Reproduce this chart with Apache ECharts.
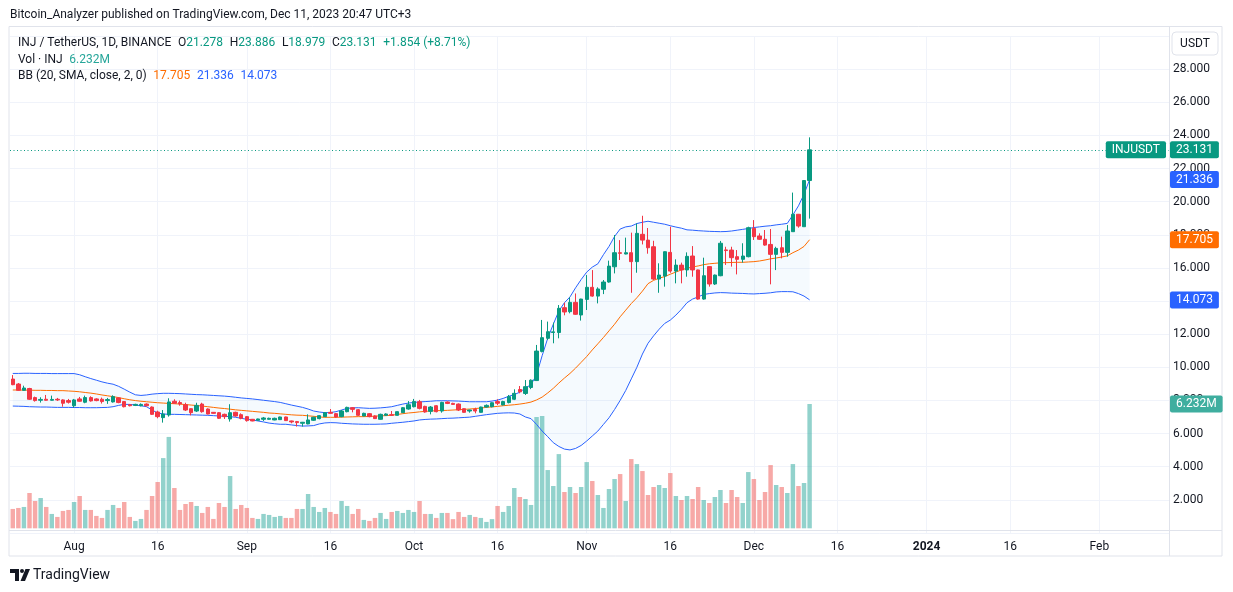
<!DOCTYPE html>
<html><head><meta charset="utf-8">
<script src="https://cdn.jsdelivr.net/npm/echarts@6/dist/echarts.min.js"></script>
<style>html,body{margin:0;padding:0;background:#fff;}#c{width:1233px;height:592px;}</style>
</head><body><div id="c"></div>
<script>
// ---- data ----
const startDate = '2023-07-21';
const dayCount = 208; // axis runs to mid-Feb 2024
const tickDates = ['2023-08-01','2023-08-16','2023-09-01','2023-09-16','2023-10-01','2023-10-16','2023-11-01','2023-11-16','2023-12-01','2023-12-16','2024-01-01','2024-01-16','2024-02-01'];
const tickLabels = ['Aug','16','Sep','16','Oct','16','Nov','16','Dec','16','2024','16','Feb'];
const priceTicks = [2,4,6,8,10,12,14,16,18,20,22,24,26,28];

const open = [9.29,8.99,8.61,8.72,8.17,8.01,8.07,8.01,8.07,8.03,7.99,7.68,8.09,7.89,8.17,8.09,8.07,7.99,7.91,8.15,
7.93,7.74,7.70,7.68,7.78,7.60,7.30,6.96,7.12,7.95,7.87,7.74,7.50,7.36,7.78,7.48,7.28,7.26,7.16,6.88,
7.28,7.14,7.02,6.86,6.80,6.86,6.86,6.82,6.84,7.00,6.76,6.72,6.62,6.58,6.80,6.90,7.02,7.28,7.20,7.02,
7.32,7.56,7.44,7.06,7.20,7.06,6.86,7.10,7.14,7.10,7.26,7.48,7.62,7.92,7.64,7.34,7.68,7.36,7.90,7.82,
7.78,7.50,7.36,7.46,7.28,7.60,7.62,7.93,7.73,7.87,8.07,8.66,8.42,8.78,9.20,10.96,11.75,12.10,12.10,13.60,
13.36,13.92,13.16,14.10,14.83,14.30,14.71,15.15,16.07,16.92,16.84,16.92,16.38,18.03,17.68,17.28,15.33,15.51,16.94,15.81,
16.17,15.88,16.72,15.88,14.12,16.08,15.03,15.53,17.09,17.08,16.68,16.52,16.68,18.39,17.93,17.73,17.42,16.82,17.22,16.94,
18.19,19.24,18.49,21.278];
const close = [8.95,8.61,8.75,8.07,7.99,8.06,8.01,8.06,8.03,7.83,7.89,8.03,7.95,8.17,7.97,7.99,7.93,8.05,8.23,7.87,
7.62,7.68,7.76,7.76,7.68,7.16,7.02,7.18,7.91,7.83,7.79,7.42,7.26,7.70,7.32,7.18,7.22,6.92,7.02,7.26,
7.06,6.92,6.78,6.76,6.88,6.94,6.92,6.92,7.00,6.78,6.70,6.66,6.68,6.82,6.98,7.08,7.26,7.22,7.00,7.36,
7.58,7.46,7.10,7.22,7.02,6.90,7.16,7.18,7.10,7.32,7.56,7.74,7.94,7.52,7.30,7.60,7.32,7.88,7.82,7.76,
7.42,7.28,7.42,7.36,7.60,7.70,7.86,7.83,7.93,8.23,8.43,8.52,8.83,9.22,10.98,11.79,12.15,12.14,13.56,13.34,
13.92,13.20,14.12,14.83,14.30,14.73,15.15,16.11,16.92,16.88,16.92,16.38,18.09,17.68,17.22,15.33,15.57,16.98,15.81,16.17,
15.88,16.70,15.88,14.12,15.53,15.03,15.57,17.49,17.05,16.62,16.52,16.72,18.43,17.89,17.73,17.38,16.82,17.18,16.94,18.23,
19.24,18.53,21.278,23.131];
const low = [8.92,8.58,8.58,8.03,7.93,7.87,7.99,7.99,7.97,7.62,7.81,7.56,7.93,7.83,7.93,7.95,7.81,7.79,7.87,7.83,
7.58,7.64,7.66,7.64,7.64,7.12,6.92,6.66,7.02,7.80,7.68,7.36,7.10,7.30,7.26,7.16,7.20,6.88,6.88,6.72,
7.02,6.86,6.72,6.74,6.78,6.76,6.84,6.80,6.82,6.76,6.62,6.42,6.42,6.56,6.76,6.86,7.00,7.20,6.96,6.98,
7.28,7.28,7.06,7.04,6.98,6.88,6.84,7.06,7.06,7.08,7.24,7.44,7.58,7.46,7.26,7.16,7.28,7.26,7.78,7.74,
7.36,7.26,7.26,7.22,7.26,7.56,7.58,7.72,7.70,7.82,8.02,8.43,8.33,8.68,9.17,10.90,11.65,11.45,11.75,13.14,
13.26,13.16,12.82,13.46,14.26,13.86,14.42,15.11,15.67,16.48,16.82,14.50,15.71,17.42,16.86,15.27,14.50,14.87,15.71,15.07,
15.07,15.47,15.47,14.08,14.08,14.87,14.97,15.50,16.18,16.08,15.61,16.32,16.64,17.69,17.69,17.34,15.01,15.87,16.58,16.68,
18.19,18.43,18.49,18.979];
const high = [9.53,9.05,8.89,8.76,8.23,8.19,8.33,8.29,8.15,8.07,8.09,8.09,8.21,8.29,8.25,8.13,8.17,8.15,8.31,8.19,
7.95,7.78,7.80,7.82,7.82,7.64,7.38,7.42,8.13,8.07,7.99,7.86,7.52,7.86,7.86,7.52,7.30,7.30,7.20,7.77,
7.32,7.22,7.06,6.88,6.90,7.00,6.96,6.96,7.02,7.02,6.78,6.76,6.70,7.16,7.02,7.12,7.30,7.48,7.24,7.42,
7.62,7.60,7.48,7.26,7.24,7.10,7.20,7.22,7.36,7.34,7.60,7.96,8.09,8.03,7.68,7.66,7.72,7.92,7.94,7.86,
7.82,7.52,7.44,7.56,7.62,7.76,7.88,8.07,7.98,8.33,8.67,8.87,9.23,9.27,11.35,12.86,12.76,12.70,13.76,13.90,
14.22,14.46,14.14,15.57,15.87,14.83,15.27,16.44,17.99,17.68,17.83,18.13,18.69,19.15,18.41,17.64,16.28,17.00,18.49,16.52,
16.32,16.94,17.32,15.90,16.62,16.10,15.60,17.63,17.28,17.28,17.08,17.49,18.49,18.89,18.09,18.29,18.35,17.28,17.89,18.59,
20.55,19.26,21.31,23.886];
// volume in millions of INJ
const volume = [0.97,1.02,1.07,1.77,1.37,1.52,1.07,0.72,0.57,0.87,0.92,1.32,1.62,0.92,0.92,0.62,0.52,0.92,1.17,1.02,
1.32,0.57,0.37,0.47,0.92,1.62,2.32,3.52,4.58,2.02,0.92,1.22,1.32,1.12,0.77,1.07,0.47,1.27,1.07,2.62,
0.97,1.17,1.02,0.52,0.47,0.72,0.67,0.57,0.62,0.52,0.52,0.97,0.97,1.72,1.07,0.82,1.02,0.82,0.72,1.37,
1.12,0.72,0.97,0.42,0.37,0.52,0.77,0.47,0.82,0.87,0.77,0.92,0.82,1.37,0.72,0.72,0.52,0.77,0.77,0.46,
0.82,0.57,0.67,0.57,0.52,0.32,0.46,1.12,0.82,1.12,2.02,1.57,1.47,1.17,5.58,5.63,2.92,2.12,3.72,1.82,
2.07,1.77,2.07,3.32,2.37,1.67,1.02,1.97,2.47,2.72,1.37,3.47,3.22,2.87,1.67,2.07,2.17,2.02,2.77,1.62,
1.42,1.62,1.47,2.07,1.42,1.27,1.57,1.92,1.27,1.92,1.57,1.27,2.82,2.47,1.42,1.82,3.17,2.17,2.07,1.77,
3.22,2.12,2.27,6.232];
const bbUpper = [9.63,9.63,9.64,9.64,9.63,9.63,9.63,9.62,9.62,9.62,9.62,9.62,9.55,9.43,9.32,9.22,9.12,9.04,8.98,8.85,
8.68,8.50,8.34,8.30,8.33,8.38,8.41,8.43,8.43,8.42,8.41,8.39,8.37,8.35,8.34,8.32,8.30,8.28,8.26,8.23,
8.19,8.15,8.12,8.09,8.05,8.01,7.97,7.93,7.88,7.80,7.72,7.65,7.58,7.48,7.36,7.30,7.26,7.27,7.32,7.42,
7.52,7.55,7.56,7.54,7.52,7.53,7.55,7.58,7.62,7.70,7.78,7.84,7.88,7.91,7.93,7.95,7.98,7.98,7.98,7.97,
7.96,7.94,7.92,7.92,7.92,7.92,7.96,8.02,8.12,8.25,8.35,8.50,8.75,8.95,9.55,10.70,11.75,12.60,13.40,13.90,
14.25,14.80,15.30,15.75,16.05,16.25,16.80,17.30,17.90,18.35,18.48,18.53,18.68,18.76,18.82,18.76,18.70,18.64,18.55,18.47,
18.40,18.30,18.28,18.25,18.23,18.21,18.20,18.19,18.20,18.23,18.28,18.33,18.38,18.44,18.48,18.52,18.55,18.60,18.64,18.69,
19.20,19.75,20.45,21.336];
const bbBasis = [8.63,8.63,8.62,8.62,8.61,8.61,8.60,8.60,8.59,8.59,8.57,8.55,8.52,8.48,8.44,8.39,8.33,8.28,8.23,8.17,
8.10,8.04,7.99,7.95,7.92,7.89,7.86,7.84,7.82,7.80,7.78,7.75,7.72,7.69,7.66,7.62,7.58,7.54,7.51,7.47,
7.43,7.40,7.37,7.34,7.31,7.28,7.24,7.22,7.19,7.16,7.13,7.11,7.10,7.07,7.04,7.00,6.98,6.98,6.98,6.99,
7.00,7.01,7.02,7.02,7.03,7.05,7.07,7.08,7.11,7.15,7.20,7.24,7.27,7.31,7.34,7.36,7.38,7.39,7.40,7.42,
7.44,7.46,7.48,7.51,7.54,7.58,7.61,7.64,7.68,7.71,7.74,7.78,7.83,7.90,8.03,8.20,8.45,8.73,9.05,9.35,
9.63,9.95,10.30,10.65,11.05,11.42,11.80,12.20,12.60,13.05,13.45,13.85,14.20,14.60,15.05,15.25,15.38,15.48,15.62,15.75,
15.88,15.98,16.06,16.12,16.20,16.25,16.28,16.31,16.32,16.33,16.34,16.34,16.36,16.38,16.42,16.48,16.55,16.60,16.66,16.73,
16.92,17.08,17.30,17.705];
const bbLower = [7.66,7.65,7.64,7.62,7.61,7.60,7.60,7.59,7.58,7.58,7.58,7.57,7.57,7.56,7.56,7.56,7.57,7.58,7.62,7.70,
7.76,7.76,7.72,7.68,7.62,7.42,7.24,7.18,7.16,7.16,7.15,7.14,7.13,7.12,7.11,7.10,7.08,7.06,7.04,7.02,
6.98,6.92,6.86,6.82,6.76,6.70,6.63,6.59,6.56,6.56,6.52,6.48,6.45,6.46,6.48,6.58,6.64,6.66,6.65,6.62,
6.60,6.58,6.57,6.56,6.56,6.56,6.57,6.58,6.62,6.65,6.68,6.72,6.76,6.82,6.85,6.87,6.88,6.90,6.92,6.93,
6.95,6.97,6.99,7.04,7.09,7.14,7.18,7.22,7.24,7.25,7.24,7.18,7.00,6.90,6.55,6.15,5.81,5.45,5.22,5.06,
5.01,5.10,5.28,5.55,5.85,6.15,6.55,6.95,7.45,8.00,8.60,9.30,10.00,10.80,11.45,11.90,12.30,12.65,12.85,13.15,
13.50,13.90,14.12,14.25,14.40,14.45,14.49,14.51,14.50,14.48,14.47,14.46,14.44,14.43,14.45,14.47,14.50,14.55,14.57,14.57,
14.56,14.45,14.30,14.073];

// ---- build chart ----
const UP = '#089981', DOWN = '#f23645';
const VUP = 'rgba(38,166,154,0.5)', VDOWN = 'rgba(239,83,80,0.5)';
const dates = [];
{
  const d0 = new Date(startDate + 'T00:00:00Z');
  for (let i = 0; i < dayCount; i++) {
    const d = new Date(d0.getTime() + i * 86400000);
    dates.push(d.toISOString().slice(0, 10));
  }
}
const tickMap = {};
tickDates.forEach((d, i) => tickMap[d] = tickLabels[i]);
const isTick = (idx, val) => Object.prototype.hasOwnProperty.call(tickMap, val);

const candles = open.map((o, i) => [o, close[i], low[i], high[i]]);
const volData = volume.map((v, i) => ({ value: v, itemStyle: { color: close[i] >= open[i] ? VUP : VDOWN } }));
const bandWidth = bbUpper.map((u, i) => +(u - bbLower[i]).toFixed(4));
const last = close[close.length - 1];
const lastVol = volume[volume.length - 1];

const FONT = 'Roboto, "Noto Sans", sans-serif';
const HIDDEN = { color: 'rgba(0,0,0,0)', width: 1 };
const badge = (txt, bg, pos) => ({
  show: true, position: pos || 'end', formatter: txt, backgroundColor: bg, color: '#fff',
  padding: [3, 6, 2, 6], borderRadius: 2, fontSize: 12, fontFamily: FONT, distance: 1
});

const chart = echarts.init(document.getElementById('c'), null, { renderer: 'canvas' });
chart.setOption({
  animation: false,
  backgroundColor: '#ffffff',
  grid: { left: 10, right: 64, top: 36.1, bottom: 59.1, containLabel: false },
  xAxis: {
    type: 'category', data: dates, boundaryGap: true,
    axisLine: { show: false }, axisTick: { show: false },
    axisLabel: {
      interval: isTick, margin: 8, color: '#131722', fontSize: 12, fontFamily: FONT,
      formatter: v => tickMap[v] === '2024' ? '{b|2024}' : (tickMap[v] || ''),
      rich: { b: { fontWeight: 'bold', fontSize: 12, color: '#131722', fontFamily: FONT } }
    },
    splitLine: { show: true, interval: isTick, alignWithLabel: true, lineStyle: { color: '#f0f3fa', width: 1 } }
  },
  yAxis: [
    {
      type: 'value', position: 'right', min: 0, max: 30, interval: 2,
      axisLine: { show: false }, axisTick: { show: false },
      axisLabel: {
        color: '#131722', fontSize: 12, fontFamily: FONT, margin: 4,
        formatter: v => priceTicks.includes(v) ? v.toFixed(3) : ''
      },
      splitLine: { show: true, lineStyle: { color: '#f0f3fa', width: 1 } }
    },
    { type: 'value', min: -0.23, max: 24.67, show: false, splitLine: { show: false } }
  ],
  series: [
    { name: 'bandBase', type: 'line', data: bbLower, stack: 'bb', symbol: 'none', silent: true, z: 1,
      lineStyle: { opacity: 0 } },
    { name: 'bandFill', type: 'line', data: bandWidth, stack: 'bb', symbol: 'none', silent: true, z: 1,
      lineStyle: { opacity: 0 }, areaStyle: { color: 'rgba(33,150,243,0.06)' } },
    { name: 'Volume', type: 'bar', yAxisIndex: 1, data: volData, barWidth: '80%', z: 2, silent: true,
      markLine: { silent: true, symbol: ['none', 'none'], z: 20,
        data: [{ yAxis: lastVol, lineStyle: HIDDEN, label: badge('6.232M', '#3fae9f') }] } },
    { name: 'Upper', type: 'line', data: bbUpper, symbol: 'none', z: 3, silent: true,
      lineStyle: { color: '#2962ff', width: 1 },
      markLine: { silent: true, symbol: ['none', 'none'], z: 20,
        data: [{ yAxis: bbUpper[bbUpper.length - 1], lineStyle: HIDDEN, label: badge('21.336', '#2962ff') }] } },
    { name: 'Lower', type: 'line', data: bbLower, symbol: 'none', z: 3, silent: true,
      lineStyle: { color: '#2962ff', width: 1 },
      markLine: { silent: true, symbol: ['none', 'none'], z: 20,
        data: [{ yAxis: bbLower[bbLower.length - 1], lineStyle: HIDDEN, label: badge('14.073', '#2962ff') }] } },
    { name: 'Basis', type: 'line', data: bbBasis, symbol: 'none', z: 3, silent: true,
      lineStyle: { color: '#ff6d00', width: 1 },
      markLine: { silent: true, symbol: ['none', 'none'], z: 20,
        data: [{ yAxis: bbBasis[bbBasis.length - 1], lineStyle: HIDDEN, label: badge('17.705', '#ff6d00') }] } },
    { name: 'INJUSDT', type: 'candlestick', data: candles, barWidth: '70%', z: 5,
      itemStyle: { color: UP, color0: DOWN, borderColor: UP, borderColor0: DOWN, borderWidth: 1 },
      markLine: { silent: true, symbol: ['none', 'none'], z: 20,
        data: [
          { yAxis: last, lineStyle: { color: UP, type: [1, 2.5], width: 1 }, label: badge('23.131', UP) },
          { yAxis: last, lineStyle: HIDDEN, label: Object.assign(badge('INJUSDT', UP, 'insideEnd'), { distance: 3 }) }
        ] } }
  ],
  graphic: [
    { type: 'rect', z: -1, shape: { x: 9, y: 26.5, width: 1213, height: 529.5 }, style: { fill: 'none', stroke: '#e0e3eb', lineWidth: 1 } },
    { type: 'line', z: 10, shape: { x1: 1169.5, y1: 26.5, x2: 1169.5, y2: 556 }, style: { stroke: '#e0e3eb', lineWidth: 1 } },
    { type: 'line', z: 10, shape: { x1: 9, y1: 530.5, x2: 1222, y2: 530.5 }, style: { stroke: '#e0e3eb', lineWidth: 1 } },
    { type: 'rect', z: 10, shape: { x: 1172, y: 32, width: 46, height: 23, r: 4 }, style: { fill: '#fff', stroke: '#e0e3eb', lineWidth: 1 } },
    { type: 'text', z: 11, x: 1195, y: 44, style: { text: 'USDT', fill: '#131722', font: '12px ' + FONT, textAlign: 'center', textVerticalAlign: 'middle' } },
    { type: 'text', z: 11, x: 10, y: 15, style: { text: 'Bitcoin_Analyzer published on TradingView.com, Dec 11, 2023 20:47 UTC+3', fill: '#131722', font: '12px ' + FONT, textVerticalAlign: 'middle' } },
    { type: 'text', z: 11, x: 18, y: 42.5, style: {
      text: '{k|INJ / TetherUS, 1D, BINANCE}  {k|O}{g|21.278}  {k|H}{g|23.886}  {k|L}{g|18.979}  {k|C}{g|23.131}  {g|+1.854 (+8.71%)}',
      textVerticalAlign: 'middle',
      rich: { k: { fill: '#131722', fontSize: 12, fontFamily: FONT }, g: { fill: UP, fontSize: 12, fontFamily: FONT } } } },
    { type: 'text', z: 11, x: 18, y: 59.5, style: {
      text: '{k|Vol · INJ}  {t|6.232M}', textVerticalAlign: 'middle',
      rich: { k: { fill: '#131722', fontSize: 12, fontFamily: FONT }, t: { fill: '#26a69a', fontSize: 12, fontFamily: FONT } } } },
    { type: 'text', z: 11, x: 18, y: 76, style: {
      text: '{k|BB (20, SMA, close, 2, 0)}  {o|17.705}  {b|21.336}  {b|14.073}', textVerticalAlign: 'middle',
      rich: { k: { fill: '#131722', fontSize: 12, fontFamily: FONT }, o: { fill: '#ff6d00', fontSize: 12, fontFamily: FONT }, b: { fill: '#2962ff', fontSize: 12, fontFamily: FONT } } } },
    { type: 'polygon', z: 11, shape: { points: [[10, 569], [19, 569], [19, 581], [15, 581], [15, 573], [10, 573]] }, style: { fill: '#131722' } },
    { type: 'circle', z: 11, shape: { cx: 22, cy: 571, r: 2 }, style: { fill: '#131722' } },
    { type: 'polygon', z: 11, shape: { points: [[25.5, 569], [30, 569], [25, 581], [20.5, 581]] }, style: { fill: '#131722' } },
    { type: 'text', z: 11, x: 33, y: 575.5, style: { text: 'TradingView', fill: '#131722', font: '14px ' + FONT, textVerticalAlign: 'middle' } }
  ]
});
</script>
</body></html>
